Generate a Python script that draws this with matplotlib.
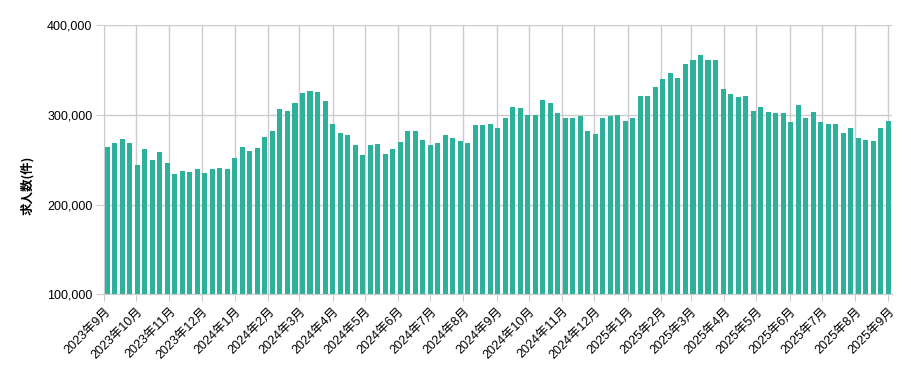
import matplotlib
matplotlib.use("Agg")
import matplotlib.pyplot as plt
from matplotlib.ticker import FuncFormatter
import pandas as pd

plt.rcParams['font.family'] = ['Liberation Sans', 'Noto Sans CJK JP']

# weekly job-posting counts, 2023-09-04 .. 2025-09-01
weeks = pd.date_range('2023-09-04', periods=105, freq='7D')
counts = [
    264000, 268400, 273300, 268400, 244400, 262200, 250000, 258400, 246200, 234400,
    237300, 236200, 239600, 235100, 239600, 241100, 239600, 252200, 264000, 259600,
    262900, 275100, 281800, 306200, 304000, 313100, 324400, 326700, 325600, 315600,
    290000, 280000, 277800, 266700, 255600, 266700, 267800, 256700, 262200, 270000,
    282200, 282200, 272200, 266700, 268900, 277800, 274400, 271100, 268900, 288900,
    288900, 290000, 285600, 296700, 308900, 307800, 300000, 300000, 316700, 313300,
    302200, 296700, 296700, 298900, 282200, 278900, 296700, 298900, 300000, 293300,
    296700, 321100, 321100, 331100, 340000, 346700, 341100, 356700, 361100, 366700,
    361100, 361100, 328900, 323300, 320000, 321100, 304400, 308900, 303300, 302200,
    302200, 292200, 311100, 296700, 303300, 292200, 290000, 290000, 280000, 285600,
    274400, 272200, 271100, 285600, 293300,
]
month_ticks = pd.date_range('2023-09-01', '2025-09-01', freq='MS')
y_ticks = [100000, 200000, 300000, 400000]

bar_color = '#2db09c'
grid_color = '#cccccc'

fig = plt.figure(figsize=(9.11, 3.71), dpi=100)
ax = fig.add_axes([103.5 / 911, 1 - 294.3 / 371, (892 - 103.5) / 911, (294.3 - 25.3) / 371])

ax.bar(weeks, counts, width=4.7, color=bar_color, zorder=2)

ax.set_xlim(weeks[0] - pd.Timedelta(days=3.5), weeks[-1] + pd.Timedelta(days=3.5))
ax.set_ylim(100000, 400000)

ax.set_xticks(month_ticks)
ax.set_xticklabels([f'{d.year}年{d.month}月' for d in month_ticks],
                   rotation=45, ha='right', rotation_mode='anchor', fontsize=9)
ax.set_yticks(y_ticks)
ax.yaxis.set_major_formatter(FuncFormatter(lambda v, p: f'{int(v):,}'))
ax.tick_params(axis='y', labelsize=9, length=6, color=grid_color, pad=2)
ax.tick_params(axis='x', length=5, color=grid_color, pad=3)

ax.grid(True, color=grid_color, linewidth=1)
ax.set_axisbelow(True)
for s in ['top', 'right']:
    ax.spines[s].set_visible(False)
for s in ['left', 'bottom']:
    ax.spines[s].set_color(grid_color)

fig.text(27 / 911, 1 - 185 / 371, '求人数(件)', rotation=90, ha='center', va='center',
         fontsize=9, fontweight='bold', family=['Noto Sans CJK JP'])

fig.savefig('out.png', dpi=100)
